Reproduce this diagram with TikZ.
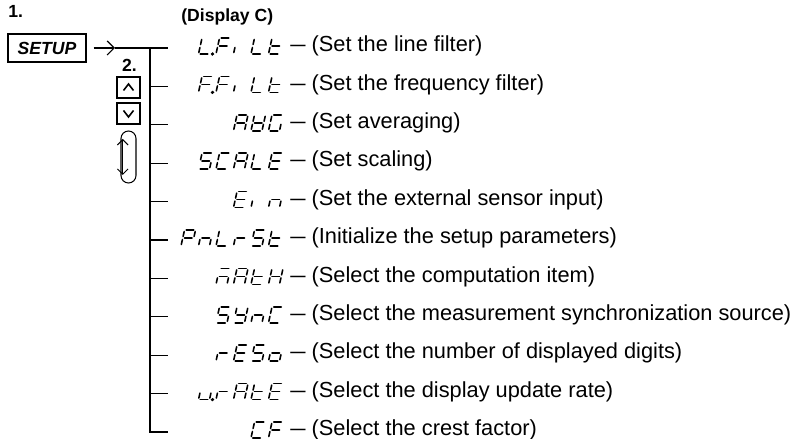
\documentclass[tikz,border=0pt]{standalone}
\usepackage{fontspec}
\setmainfont{Liberation Sans}
\usepackage{graphicx}
\usepackage{tikz}
\usetikzlibrary{positioning,arrows.meta}

% segments of one display digit (cell 0.22 x 0.32)
\def\sga{(0.035,0.32) -- (0.185,0.32)}
\def\sgb{(0.22,0.29) -- (0.22,0.19)}
\def\sgc{(0.22,0.13) -- (0.22,0.03)}
\def\sgd{(0.035,0) -- (0.185,0)}
\def\sge{(0,0.03) -- (0,0.13)}
\def\sgf{(0,0.19) -- (0,0.29)}
\def\sgg{(0.035,0.16) -- (0.185,0.16)}
\def\sgp{(0.28,0) circle (0.4pt)}

\newcommand\digit[3]{%
  \begin{scope}[shift={({#1},#2)},xslant=0.22]
    \foreach \s in #3 {%
      \expandafter\let\expandafter\thisseg\csname sg\s\endcsname
      \draw[seg] \thisseg;}
  \end{scope}}
\newcommand\word[3]{%
  \foreach \segs [count=\k] in {#3} {\digit{#1+(\k-1)*0.35}{#2}{\segs}}}
\newcommand\dash{\scalebox{0.7}[1]{—}}

\begin{document}
\begin{tikzpicture}[
    seg/.style={line width=0.9pt, line cap=round},
    tree/.style={line width=0.7pt},
    lbl/.style={font=\bfseries\fontsize{10}{12}\selectfont},
    desc/.style={anchor=west, inner sep=0pt, font=\fontsize{12.4}{14}\selectfont},
    key/.style={draw, line width=0.6pt, inner sep=0pt}
  ]
  \useasboundingbox (0,0) rectangle (15.9,-8.78);

  % keys on the left
  \node[lbl, anchor=base west, inner sep=0pt] (one) at (0.16,-0.36) {1.};
  \node[key, minimum width=1.56cm, minimum height=0.56cm,
        font=\bfseries\itshape\fontsize{10}{12}\selectfont] (setup) at (0.94,-0.96) {SETUP};
  \node[lbl, inner sep=0pt] (two) at (2.59,-1.3) {2.};
  \node[key, minimum width=0.46cm, minimum height=0.42cm] (up) at (2.57,-1.75) {};
  \node[key, minimum width=0.46cm, minimum height=0.42cm] (down) at (2.57,-2.27) {};
  \node[key, rounded corners=0.15cm, minimum width=0.3cm, minimum height=1.04cm] (knob) at (2.57,-3.14) {};
  \draw[line width=0.9pt] ([shift={(-0.1,-0.06)}]up.center) -- ([shift={(0,0.07)}]up.center) -- ([shift={(0.1,-0.06)}]up.center);
  \draw[line width=0.9pt] ([shift={(-0.1,0.06)}]down.center) -- ([shift={(0,-0.07)}]down.center) -- ([shift={(0.1,0.06)}]down.center);
  \draw[{Straight Barb[length=3pt,width=6pt]}-{Straight Barb[length=3pt,width=6pt]}, line width=0.6pt]
    ([shift={(-0.115,0.36)}]knob.center) -- ([shift={(-0.115,-0.36)}]knob.center);

  % tree
  \coordinate (tip) at (2.3,-0.96);
  \draw[-{Straight Barb[length=4pt,width=8pt]}, tree] ([xshift=0.14cm]setup.east) -- (tip);
  \draw[tree] (tip) -- (3.36,-0.96);
  \draw[tree] (3.0,-0.96) -- (3.0,-8.64) -- (3.36,-8.64);
  \foreach \i in {2,...,10}
    \draw[tree] (3.0,{-0.96-(\i-1)*0.768}) -- (3.36,{-0.96-(\i-1)*0.768});

  \node[lbl, anchor=base west, inner sep=0pt] (disp) at (3.62,-0.44) {(Display C)};

  % descriptions
  \foreach \txt [count=\i] in {(Set the line filter), (Set the frequency filter),
      (Set averaging), (Set scaling), (Set the external sensor input),
      (Initialize the setup parameters), (Select the computation item),
      (Select the measurement synchronization source),
      (Select the number of displayed digits), (Select the display update rate),
      (Select the crest factor)}
    \node[desc] (d\i) at (5.8,{-0.92-(\i-1)*0.768}) {\dash{} \txt};

  % display characters
  \word{3.97}{-1.08}{{d,e,f,p},{a,e,f,g},{e},{d,e,f},{d,e,f,g}}
  \word{3.97}{-1.848}{{a,e,f,g,p},{a,e,f,g},{e},{d,e,f},{d,e,f,g}}
  \word{4.67}{-2.616}{{a,b,c,e,f,g},{b,c,d,e,f,g},{a,c,d,e,f}}
  \word{3.97}{-3.384}{{a,c,d,f,g},{a,d,e,f},{a,b,c,e,f,g},{d,e,f},{a,d,e,f,g}}
  \word{4.67}{-4.152}{{a,d,e,f,g},{e},{c,e,g}}
  \word{3.62}{-4.92}{{a,b,e,f,g},{c,e,g},{d,e,f},{e,g},{a,c,d,f,g},{d,e,f,g}}
  \word{4.32}{-5.688}{{a,c,e,g},{a,b,c,e,f,g},{d,e,f,g},{b,c,e,f,g}}
  \word{4.32}{-6.456}{{a,c,d,f,g},{b,c,d,f,g},{c,e,g},{a,d,e,f}}
  \word{4.32}{-7.224}{{e,g},{a,d,e,f,g},{a,c,d,f,g},{c,d,e,g}}
  \word{3.97}{-7.992}{{c,d,e,p},{e,g},{a,b,c,e,f,g},{d,e,f,g},{a,d,e,f,g}}
  \word{5.02}{-8.76}{{a,d,e,f},{a,e,f,g}}
\end{tikzpicture}
\end{document}
